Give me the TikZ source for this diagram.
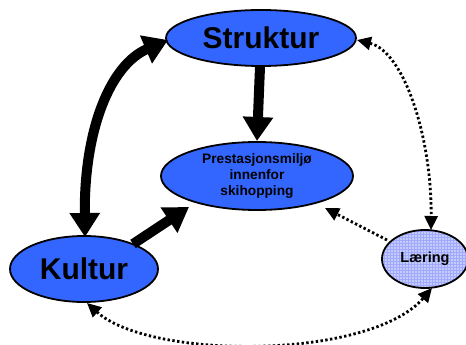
\documentclass[tikz,border=0pt]{standalone}
\usepackage{fontspec}
\setmainfont{Liberation Sans}
\usetikzlibrary{arrows.meta,shapes.geometric,patterns}
\definecolor{bubble}{RGB}{51,102,255}
\definecolor{palebubble}{RGB}{190,208,250}
\tikzset{
  bubble/.style={ellipse, draw=black, line width=1.8pt, fill=bubble, inner sep=0pt, font=\bfseries},
  palenode/.style={ellipse, draw=black, line width=1.8pt, inner sep=0pt, font=\bfseries,
    preaction={fill=palebubble}, pattern=grid, pattern color=blue!35},
  strong/.style={line width=10pt, -{Triangle[length=24pt,width=29pt]}},
  strongboth/.style={line width=10pt, {Triangle[length=24pt,width=29pt]}-{Triangle[length=24pt,width=29pt]}},
  weak/.style={line width=2.8pt, dash pattern=on 2.4pt off 2.4pt, -{Triangle[length=14pt,width=13pt]}},
  weakboth/.style={line width=2.8pt, dash pattern=on 2.4pt off 2.4pt, {Triangle[length=14pt,width=13pt]}-{Triangle[length=14pt,width=13pt]}}
}
\begin{document}
\begin{tikzpicture}[x=1pt,y=-1pt]
\useasboundingbox (0,0) rectangle (466,345);

% the four areas
\node[bubble, minimum width=190pt, minimum height=56pt, font=\fontsize{30}{32}\selectfont\bfseries] (struktur) at (261,38) {Struktur};
\node[bubble, minimum width=192pt, minimum height=68pt, align=center, font=\fontsize{13.7}{16}\selectfont\bfseries] (prest) at (257,176) {Prestasjonsmiljø\\innenfor\\skihopping};
\node[bubble, minimum width=148pt, minimum height=66pt, font=\fontsize{30}{32}\selectfont\bfseries] (kultur) at (84,269) {Kultur};
\node[palenode, minimum width=86pt, minimum height=58pt, font=\fontsize{14.5}{16}\selectfont\bfseries] (laering) at (425,259) {Læring};

% anchor points on the outlines
\coordinate (sBot) at (260,67);
\coordinate (pTop) at (257,141);
\coordinate (kEdge) at (133,244);
\coordinate (pLeft) at (189,207);
\coordinate (kTop) at (85,237);
\coordinate (sLeft) at (168,40);
\coordinate (sRight) at (357,40);
\coordinate (lTop) at (431,230);
\coordinate (lLeft) at (387,240);
\coordinate (pRight) at (325,208);
\coordinate (kBot) at (87,303);
\coordinate (lBot) at (432,288);

% strong influences
\draw[strong] (sBot) -- (pTop);
\draw[strong] (kEdge) -- (pLeft);
\draw[strongboth] (kTop) .. controls (84,130) and (110,65) .. (sLeft);

% weaker influences
\draw[weakboth] (sRight) .. controls (405,52) and (432,140) .. (lTop);
\draw[weak] (lLeft) -- (pRight);
\draw[weakboth] (kBot) .. controls (150,360) and (370,360) .. (lBot);
\end{tikzpicture}
\end{document}
